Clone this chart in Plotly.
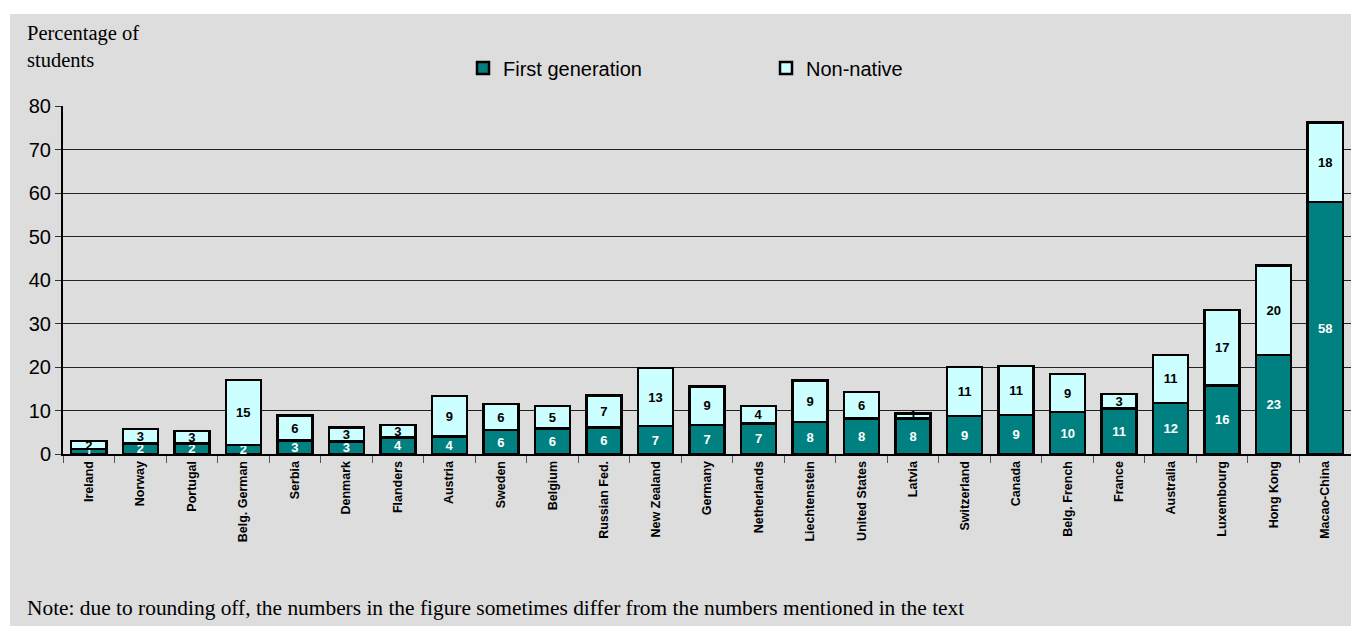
import plotly.graph_objects as go

countries = ["Ireland", "Norway", "Portugal", "Belg. German", "Serbia", "Denmark", "Flanders",
             "Austria", "Sweden", "Belgium", "Russian Fed.", "New Zealand", "Germany",
             "Netherlands", "Liechtenstein", "United States", "Latvia", "Switzerland",
             "Canada", "Belg. French", "France", "Australia", "Luxembourg", "Hong Kong",
             "Macao-China"]
first_gen = [1.1, 2.4, 2.4, 2.1, 3.1, 2.9, 3.8, 4.0, 5.5, 5.9, 6.1, 6.4, 6.7, 7.0, 7.4,
             8.2, 8.2, 8.7, 9.0, 9.6, 10.5, 11.7, 15.7, 22.8, 57.9]
non_native = [1.9, 3.35, 2.9, 14.9, 5.7, 3.15, 2.9, 9.3, 6.0, 5.1, 7.3, 13.4, 8.8, 4.0, 9.5,
              6.1, 1.1, 11.3, 11.2, 8.8, 3.3, 11.1, 17.4, 20.5, 18.3]
first_gen_labels = [1, 2, 2, 2, 3, 3, 4, 4, 6, 6, 6, 7, 7, 7, 8, 8, 8, 9, 9, 10, 11, 12, 16, 23, 58]
non_native_labels = [2, 3, 3, 15, 6, 3, 3, 9, 6, 5, 7, 13, 9, 4, 9, 6, 1, 11, 11, 9, 3, 11, 17, 20, 18]
y_ticks = [0, 10, 20, 30, 40, 50, 60, 70, 80]

W, H = 1351, 626
L, R, T, B = 63, 0, 106, 172
pw, ph = W - L - R, H - T - B

fig = go.Figure()
fig.add_trace(go.Bar(
    x=countries, y=first_gen, name="First generation",
    marker=dict(color="#008080", line=dict(color="black", width=2.5)),
    text=[str(v) for v in first_gen_labels], textposition="inside", textangle=0,
    insidetextanchor="middle", constraintext="none",
    textfont=dict(family="Arial, Liberation Sans", size=13, color="white", weight="bold"),
    width=0.68, cliponaxis=False, hoverinfo="skip"))
fig.add_trace(go.Bar(
    x=countries, y=non_native, name="Non-native",
    marker=dict(color="#CCFFFF", line=dict(color="black", width=2.5)),
    text=[str(v) for v in non_native_labels], textposition="inside", textangle=0,
    insidetextanchor="middle", constraintext="none",
    textfont=dict(family="Arial, Liberation Sans", size=13, color="black", weight="bold"),
    width=0.68, cliponaxis=False, hoverinfo="skip"))

def px_x(x):
    return (x - L) / pw

def px_y(y):
    return (H - B - y) / ph

fig.update_layout(
    width=W, height=H, barmode="stack",
    margin=dict(l=L, r=R, t=T, b=B, autoexpand=False),
    paper_bgcolor="white", plot_bgcolor="#DDDDDD",
    font=dict(family="Arial, Liberation Sans", color="black"),
    uniformtext=dict(minsize=13, mode="show"),
    showlegend=True,
    legend=dict(orientation="h", x=px_x(463), xanchor="left", y=px_y(68), yanchor="middle",
                bgcolor="rgba(0,0,0,0)", font=dict(size=20, family="Arial, Liberation Sans"),
                entrywidth=258, entrywidthmode="pixels", traceorder="normal"),
    xaxis=dict(tickangle=-90, tickfont=dict(size=12.5, weight="bold"), showline=True,
               linecolor="black", linewidth=2, ticks="outside", tickson="boundaries",
               ticklen=7, tickcolor="#555", showgrid=False, range=[-0.5, 24.5]),
    yaxis=dict(range=[0, 80], tickvals=y_ticks, tickfont=dict(size=20), showline=True,
               linecolor="black", linewidth=2, ticks="outside", ticklen=6, tickcolor="#333",
               showgrid=True, gridcolor="#222", gridwidth=1, zeroline=False),
    shapes=[dict(type="rect", xref="paper", yref="paper", x0=px_x(10), x1=px_x(1360),
                 y0=px_y(640), y1=px_y(14), fillcolor="#DDDDDD", line=dict(width=0),
                 layer="below")],
    annotations=[
        dict(text="Percentage of<br>students", xref="paper", yref="paper", x=px_x(25),
             y=px_y(20), xanchor="left", yanchor="top", showarrow=False, align="left",
             font=dict(family="Times New Roman, Liberation Serif", size=20.5)),
        dict(text="Note: due to rounding off, the numbers in the figure sometimes differ from the numbers mentioned in the text",
             xref="paper", yref="paper", x=px_x(25), y=px_y(608), xanchor="left",
             yanchor="middle", showarrow=False,
             font=dict(family="Times New Roman, Liberation Serif", size=21.4)),
    ],
)

fig.write_html("out.html", config={"displayModeBar": False},
               post_script="document.body.style.margin='0';document.body.style.overflow='hidden';")
